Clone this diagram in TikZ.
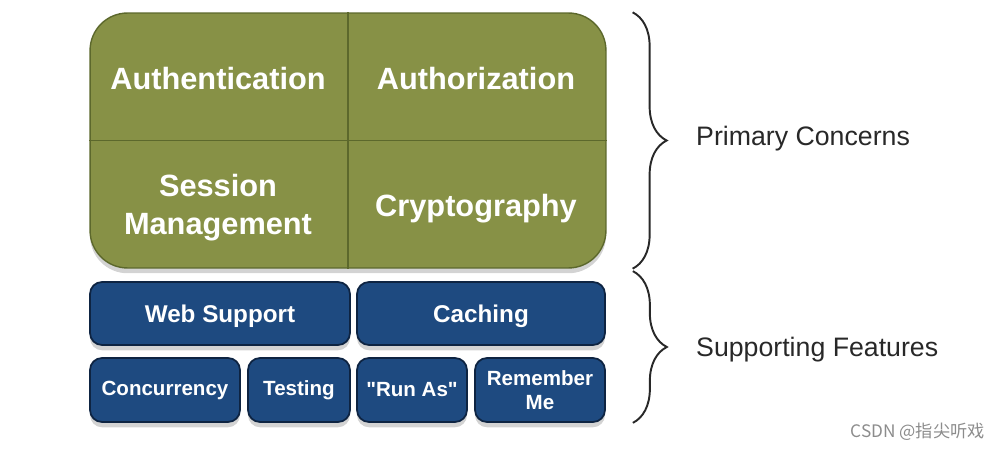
\documentclass[tikz,border=0pt]{standalone}
\usepackage{fontspec}
\setmainfont{Liberation Sans}
\newfontfamily\straightfont{Liberation Sans}[Ligatures=TeXOff]
\newfontfamily\cjkfont{Noto Sans CJK SC}
\usetikzlibrary{calc,shadows,decorations.pathreplacing}

\definecolor{concernfill}{RGB}{135,145,70}
\definecolor{concernline}{RGB}{92,104,44}
\definecolor{featurefill}{RGB}{30,74,128}
\definecolor{featureline}{RGB}{14,36,66}
\definecolor{labeltext}{RGB}{40,40,40}

\begin{document}
\begin{tikzpicture}[
    x=0.02cm, y=-0.02cm,
    concerns/.style={fill=concernfill, draw=concernline, line width=0.8pt, rounded corners=0.75cm, inner sep=0pt,
        drop shadow={shadow xshift=0pt, shadow yshift=-3pt, opacity=0.35}},
    concern/.style={font=\bfseries\fontsize{17.5}{21.5}\selectfont, text=white, align=center},
    feature/.style={fill=featurefill, draw=featureline, line width=1pt, rounded corners=0.24cm, inner sep=0pt,
        text=white, align=center, drop shadow={shadow xshift=0pt, shadow yshift=-3pt, opacity=0.35}},
    wide/.style={feature, minimum height=1.26cm, text depth=0pt, font=\bfseries\fontsize{13.8}{16}\selectfont},
    small/.style={feature, minimum height=1.28cm, font=\bfseries\fontsize{11.7}{13.6}\selectfont},
    divider/.style={concernline, line width=1pt},
    bracket/.style={decorate, decoration={brace, amplitude=0.68cm}, draw=labeltext, line width=1.1pt},
    group/.style={anchor=west, text=labeltext, font=\fontsize{15.2}{18}\selectfont}
]
\useasboundingbox (0,0) rectangle (1005,449);

% primary concerns
\node[concerns, minimum width=10.32cm, minimum height=5.1cm] (core) at (348,140.5) {};
\draw[divider] (core.north) -- (core.south);
\draw[divider] (core.west) -- (core.east);
\node[concern] (authn) at (218,79) {Authentication};
\node[concern] (authz) at (476,79) {Authorization};
\node[concern] (session) at (218,208) {Session\\Management};
\node[concern] (crypto) at (476,209) {Cryptography};

% supporting features
\node[wide, minimum width=5.2cm] (web) at (220,313.5) {Web Support};
\node[wide, minimum width=4.96cm] (cache) at (481,313.5) {Caching};
\node[small, minimum width=3cm] (conc) at (165,390) {Concurrency};
\node[small, minimum width=2.04cm] (test) at (299,390) {Testing};
\node[small, minimum width=2.2cm, font=\straightfont\bfseries\fontsize{11.7}{13.6}\selectfont] (runas) at (412,390) {"Run As"};
\node[small, minimum width=2.6cm] (remember) at (540,390) {Remember\\Me};

% braces and labels
\coordinate (pc top) at ($(core.north east)+(26,0)$);
\coordinate (pc bot) at ($(core.south east)+(26,0)$);
\coordinate (sf top) at ($(cache.north east)+(27,-10)$);
\coordinate (sf bot) at ($(remember.south east)+(27,0)$);
\draw[bracket] (pc top) -- (pc bot);
\draw[bracket] (sf top) -- (sf bot);
\node[group] (primary) at (690,139) {Primary Concerns};
\node[group] (supporting) at (690,350) {Supporting Features};

\node[anchor=east, text=black!45, font=\cjkfont\fontsize{9.8}{12}\selectfont] (mark) at (991,432) {CSDN @指尖听戏};
\end{tikzpicture}
\end{document}
